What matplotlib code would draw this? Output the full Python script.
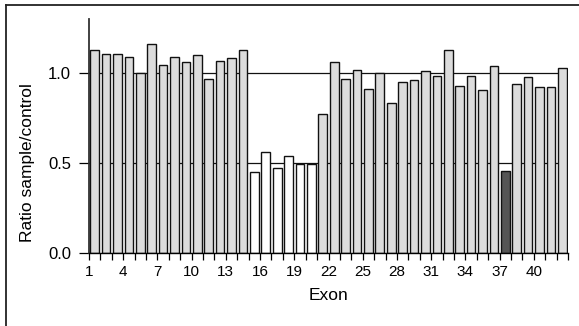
import matplotlib
matplotlib.use('Agg')
import matplotlib.pyplot as plt
from matplotlib.lines import Line2D

plt.rcParams['font.family'] = ['Liberation Sans', 'DejaVu Sans']

# exon copy-number ratios (sample vs control)
exons = list(range(1, 43))
ratios = [1.126, 1.106, 1.106, 1.087, 1.000, 1.159, 1.043, 1.087, 1.059, 1.100,
          0.969, 1.067, 1.081, 1.126,
          0.448, 0.559, 0.469, 0.539, 0.491, 0.491,
          0.769, 1.059, 0.967, 1.019, 0.909, 1.002, 0.830, 0.948, 0.959, 1.009,
          0.981, 1.126, 0.926, 0.985, 0.907, 1.039, 0.456, 0.941, 0.978, 0.924,
          0.924, 1.028]
deleted = list(range(15, 21))   # heterozygous deletion, drawn white
marked = [37]                   # single-exon call, drawn dark
tick_labels = [str(i) if (i - 1) % 3 == 0 and i <= 40 else '' for i in range(1, 44)]

colors = []
for e in exons:
    if e in marked:
        colors.append('#555555')
    elif e in deleted:
        colors.append('white')
    else:
        colors.append('#dcdcdc')

fig = plt.figure(figsize=(5.79, 3.26), dpi=100)
W, H = 579, 326
ax = fig.add_axes([89 / W, 1 - 252.7 / H, (568 - 89) / W, (252.7 - 19) / H])

ax.bar([e + 0.5 for e in exons], ratios, width=0.76, color=colors,
       edgecolor='#111111', linewidth=1.0, zorder=3)

ax.set_xlim(1, 43)
ax.set_ylim(0, 1.3)
ax.set_xticks(range(1, 44))
ax.set_xticklabels(tick_labels, fontsize=11)
ax.set_yticks([0, 0.5, 1.0])
ax.set_yticklabels(['0.0', '0.5', '1.0'], fontsize=12)
ax.tick_params(axis='x', direction='out', length=5, width=0.9, pad=4)
ax.tick_params(axis='y', direction='out', length=7, width=0.9, pad=6)

for y in (0.5, 1.0):
    ax.axhline(y, color='#111111', linewidth=0.9, zorder=1)

for s in ('top', 'right'):
    ax.spines[s].set_visible(False)
ax.spines['left'].set_linewidth(1.3)
ax.spines['left'].set_color('#333333')
ax.spines['bottom'].set_linewidth(1.0)
ax.spines['bottom'].set_zorder(4)

ax.set_ylabel('Ratio sample/control', fontsize=12.5)
ax.set_xlabel('Exon', fontsize=12.5)
# y label centred on the 0-1 range, x label under the axis
ax.yaxis.set_label_coords(-0.128, 0.5 / 1.3)
ax.xaxis.set_label_coords(0.5, -0.185)
ax.xaxis.label.set_verticalalignment('center')
ax.yaxis.label.set_verticalalignment('center')

# outer frame: left and top edges
fig.add_artist(Line2D([5.5 / W, 5.5 / W], [0, 1 - 4.5 / H], transform=fig.transFigure,
                      color='#222222', linewidth=1.3))
fig.add_artist(Line2D([5.5 / W, 1], [1 - 4.5 / H, 1 - 4.5 / H], transform=fig.transFigure,
                      color='#222222', linewidth=1.3))

plt.savefig('out.png', dpi=100)
